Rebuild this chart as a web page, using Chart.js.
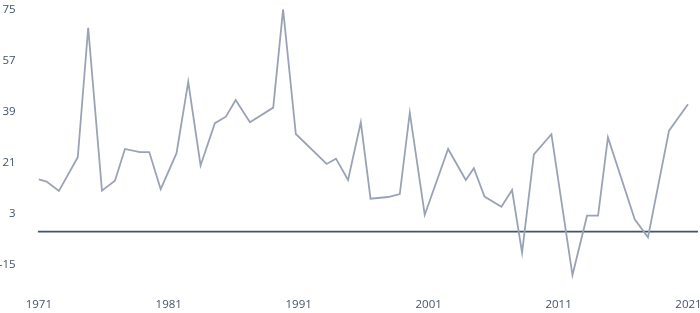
<!DOCTYPE html>
<html><head><meta charset="utf-8">
<script src="https://cdn.jsdelivr.net/npm/chart.js@4/dist/chart.umd.min.js"></script>
<style>html,body{margin:0;padding:0;background:#fff}#wrap{width:700px;height:313px;position:relative}</style>
</head><body><div id="wrap"><canvas id="c"></canvas></div>
<script>
// Data (x = fractional year, y = value)
const years = [1971.0, 1971.6, 1972.55, 1974.0, 1974.8, 1975.86, 1976.86, 1977.63, 1978.78, 1979.5,
  1980.38, 1981.6, 1982.5, 1983.45, 1984.55, 1985.4, 1986.15, 1987.25, 1989.04, 1989.8,
  1990.78, 1993.15, 1993.87, 1994.8, 1995.78, 1996.53, 1997.88, 1998.78, 1999.55, 2000.7,
  2002.5, 2003.86, 2004.48, 2005.3, 2006.6, 2007.42, 2008.19, 2009.1, 2010.45, 2012.07,
  2013.19, 2014.04, 2014.8, 2016.86, 2017.88, 2019.5, 2020.96];
const values = [15.0, 14.2, 10.9, 22.8, 68.5, 11.0, 14.5, 25.7, 24.6, 24.6,
  11.5, 24.2, 49.4, 19.9, 34.8, 37.1, 43.0, 35.1, 40.3, 75.0,
  31.0, 20.4, 22.3, 14.75, 35.1, 8.15, 8.75, 9.8, 38.5, 2.5,
  25.7, 14.75, 18.9, 8.9, 5.3, 11.2, -10.9, 23.8, 30.9, -18.8,
  2.15, 2.15, 29.8, 0.9, -5.5, 32.15, 41.5];
const xTickYears = [1971, 1981, 1991, 2001, 2011, 2021];
const yTickValues = [-15, 3, 21, 39, 57, 75];
const baselineValue = -3.5;
const xMin = 1970.915, xMax = 2021.73;
const yMin = -21, yMax = 75;

const TEXT = '#44546A';
Chart.defaults.font.family = "'Open Sans', sans-serif";
Chart.defaults.font.size = 11.5;
Chart.defaults.color = TEXT;

const seriesPoints = years.map((x, i) => ({x: x, y: values[i]}));
const baselinePoints = [{x: xMin, y: baselineValue}, {x: xMax, y: baselineValue}];

new Chart(document.getElementById('c'), {
  type: 'line',
  data: {
    datasets: [
      {data: seriesPoints, borderColor: '#9AA3B6', borderWidth: 1.8, pointRadius: 0, tension: 0, fill: false, order: 1},
      {data: baselinePoints, borderColor: '#44546A', borderWidth: 1.8, pointRadius: 0, tension: 0, fill: false, order: 2}
    ]
  },
  options: {
    responsive: true,
    maintainAspectRatio: false,
    animation: false,
    layout: {padding: {top: 9.3, bottom: 3.3, left: 0, right: 2}},
    plugins: {legend: {display: false}, tooltip: {enabled: false}},
    scales: {
      x: {
        type: 'linear', min: xMin, max: xMax,
        grid: {display: false, drawTicks: false},
        border: {display: false},
        ticks: {padding: 16.5, maxRotation: 0, callback: v => String(v)},
        afterBuildTicks: s => { s.ticks = xTickYears.map(v => ({value: v})); },
        afterFit: s => { s.paddingLeft = 0; s.paddingRight = 0; s.height = 28.4; }
      },
      y: {
        type: 'linear', min: yMin, max: yMax,
        grid: {display: false, drawTicks: false},
        border: {display: false},
        ticks: {padding: 22, callback: v => String(v)},
        afterBuildTicks: s => { s.ticks = yTickValues.map(v => ({value: v})); },
        afterFit: s => { s.width = 37.7; s.paddingTop = 0; s.paddingBottom = 0; }
      }
    }
  }
});
</script>
</body></html>
